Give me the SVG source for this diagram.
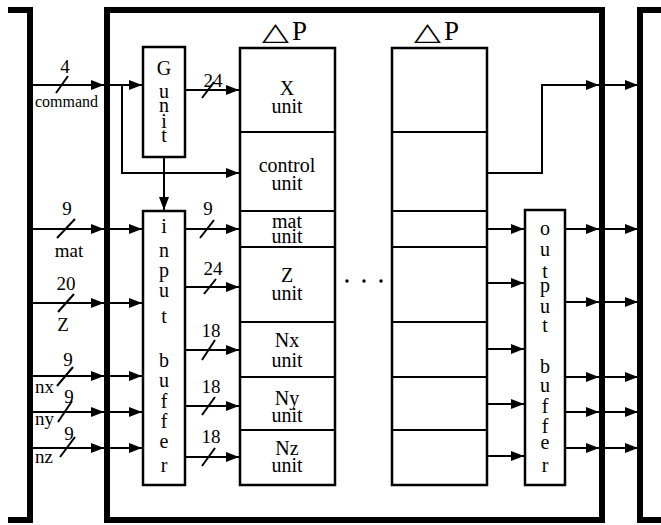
<svg xmlns="http://www.w3.org/2000/svg" width="661" height="525" viewBox="0 0 661 525">
<style>
.t{font-family:"Liberation Serif","Times New Roman",serif;font-size:20px;text-anchor:middle;fill:#000}
.s{font-family:"Liberation Serif","Times New Roman",serif;font-size:19px;text-anchor:middle;fill:#000}
.l{font-family:"Liberation Serif","Times New Roman",serif;font-size:19px;fill:#000}
.cmd{font-family:"Liberation Serif","Times New Roman",serif;font-size:16px;fill:#000}
.tri{font-family:"DejaVu Sans",sans-serif;font-size:25px;fill:#000}
.p{font-family:"Liberation Serif","Times New Roman",serif;font-size:27px;fill:#000}
.box{fill:#fff;stroke:#000;stroke-width:2.5}
.thick{fill:none;stroke:#000;stroke-width:6}
.cell{stroke:#000;stroke-width:2;fill:none}
.c{fill:none;stroke:#000;stroke-width:2}
.a{marker-end:url(#ah)}
.sl{stroke:#000;stroke-width:2}
</style>
<defs>
<marker id="ah" markerWidth="13" markerHeight="10" refX="13" refY="5" orient="auto" markerUnits="userSpaceOnUse"><path d="M0,0 L13,5 L0,10 z" fill="#000"/></marker>
</defs>
<rect width="661" height="525" fill="#fff"/>

<g id="left-bracket"><path class="thick" d="M8,10 H30 V520 H8"/></g>
<g id="right-bracket"><path class="thick" d="M661,10 H640 V520 H661"/></g>
<g id="main-box"><rect class="thick" x="107" y="10" width="495" height="510"/></g>

<g id="connectors">
<path class="c a" d="M33,85 H104"/>
<path class="c a" d="M110,85 H142"/>
<path class="c a" d="M122,85 V173 H239"/>
<path class="c a" d="M185,90 H239"/>
<path class="c a" d="M164,157 V210"/>
<path class="c a" d="M33,229 H104"/><path class="c a" d="M110,229 H142"/>
<path class="c a" d="M33,303 H104"/><path class="c a" d="M110,303 H142"/>
<path class="c a" d="M33,376 H104"/><path class="c a" d="M110,376 H142"/>
<path class="c a" d="M33,412 H104"/><path class="c a" d="M110,412 H142"/>
<path class="c a" d="M33,448 H104"/><path class="c a" d="M110,448 H142"/>
<path class="c a" d="M185,229 H239"/>
<path class="c a" d="M185,287 H239"/>
<path class="c a" d="M185,350 H239"/>
<path class="c a" d="M185,406 H239"/>
<path class="c a" d="M185,457 H239"/>
<path class="c a" d="M488,229 H524"/>
<path class="c a" d="M488,283 H524"/>
<path class="c a" d="M488,349 H524"/>
<path class="c a" d="M488,404 H524"/>
<path class="c a" d="M488,456 H524"/>
<path class="c a" d="M565,229 H599"/><path class="c a" d="M605,229 H638"/>
<path class="c a" d="M565,302 H599"/><path class="c a" d="M605,302 H638"/>
<path class="c a" d="M565,377 H599"/><path class="c a" d="M605,377 H638"/>
<path class="c a" d="M565,412 H599"/><path class="c a" d="M605,412 H638"/>
<path class="c a" d="M565,448 H599"/><path class="c a" d="M605,448 H638"/>
<path class="c a" d="M488,173 H542 V85 H599"/><path class="c a" d="M605,85 H638"/>
<line class="sl" x1="56" y1="93" x2="68" y2="76"/>
<line class="sl" x1="202" y1="98" x2="214" y2="82"/>
<line class="sl" x1="57" y1="238" x2="75" y2="219"/>
<line class="sl" x1="58" y1="312" x2="74" y2="294"/>
<line class="sl" x1="57" y1="386" x2="73" y2="367"/>
<line class="sl" x1="58" y1="422" x2="72" y2="401"/>
<line class="sl" x1="60" y1="457" x2="75" y2="437"/>
<line class="sl" x1="200" y1="238" x2="214" y2="220"/>
<line class="sl" x1="204" y1="294" x2="216" y2="279"/>
<line class="sl" x1="202" y1="360" x2="215" y2="340"/>
<line class="sl" x1="202" y1="415" x2="215" y2="397"/>
<line class="sl" x1="202" y1="466" x2="215" y2="448"/>
<text class="s" x="65" y="73">4</text>
<text class="cmd" x="35" y="107">command</text>
<text class="s" x="213" y="87">24</text>
<text class="s" x="67" y="215">9</text>
<text class="s" x="69" y="257">mat</text>
<text class="s" x="66" y="290">20</text>
<text class="s" x="63" y="331">Z</text>
<text class="s" x="68" y="366">9</text>
<text class="l" x="35" y="393">nx</text>
<text class="s" x="69" y="403">9</text>
<text class="l" x="35" y="425">ny</text>
<text class="s" x="69" y="440">9</text>
<text class="l" x="35" y="463">nz</text>
<text class="s" x="208" y="215">9</text>
<text class="s" x="213" y="275">24</text>
<text class="s" x="211" y="337">18</text>
<text class="s" x="211" y="393">18</text>
<text class="s" x="211" y="443">18</text>
</g>

<g id="g-unit">
<rect class="box" x="143" y="47" width="42" height="110"/>
<text class="t" x="164" y="75">G</text>
<text class="t" x="164" y="98">u</text>
<text class="t" x="164" y="112">n</text>
<text class="t" x="164" y="128">i</text>
<text class="t" x="164" y="142">t</text>
</g>

<g id="input-buffer">
<rect class="box" x="143" y="211" width="42" height="274"/>
<text class="t" x="164" y="233">i</text>
<text class="t" x="164" y="257">n</text>
<text class="t" x="164" y="277">p</text>
<text class="t" x="164" y="297">u</text>
<text class="t" x="164" y="323">t</text>
<text class="t" x="164" y="367">b</text>
<text class="t" x="164" y="387">u</text>
<text class="t" x="164" y="408">f</text>
<text class="t" x="164" y="428">f</text>
<text class="t" x="164" y="448">e</text>
<text class="t" x="164" y="472">r</text>
</g>

<g id="processor-1">
<text class="tri" transform="translate(262,40) scale(1.4,1)">△</text>
<text class="p" x="292" y="40">P</text>
<rect class="box" x="240" y="48" width="95" height="437"/>
<path class="cell" d="M240,132 H335 M240,211 H335 M240,247 H335 M240,322 H335 M240,377 H335 M240,430 H335"/>
<text class="t" x="287" y="95">X</text><text class="t" x="287" y="113">unit</text>
<text class="t" x="287" y="172">control</text><text class="t" x="287" y="190">unit</text>
<text class="t" x="287" y="228">mat</text><text class="t" x="287" y="243">unit</text>
<text class="t" x="287" y="282">Z</text><text class="t" x="287" y="300">unit</text>
<text class="t" x="287" y="347">Nx</text><text class="t" x="287" y="367">unit</text>
<text class="t" x="287" y="405">Ny</text><text class="t" x="287" y="422">unit</text>
<text class="t" x="287" y="455">Nz</text><text class="t" x="287" y="472">unit</text>
</g>

<g id="ellipsis">
<circle cx="347" cy="281" r="1.7"/><circle cx="364" cy="281" r="1.7"/><circle cx="381" cy="281" r="1.7"/>
</g>

<g id="processor-n">
<text class="tri" transform="translate(414,40) scale(1.4,1)">△</text>
<text class="p" x="444" y="40">P</text>
<rect class="box" x="392" y="48" width="95" height="437"/>
<path class="cell" d="M392,132 H487 M392,211 H487 M392,247 H487 M392,322 H487 M392,377 H487 M392,430 H487"/>
</g>

<g id="output-buffer">
<rect class="box" x="525" y="210" width="40" height="275"/>
<text class="t" x="545" y="235">o</text>
<text class="t" x="545" y="256">u</text>
<text class="t" x="545" y="278">t</text>
<text class="t" x="545" y="292">p</text>
<text class="t" x="545" y="313">u</text>
<text class="t" x="545" y="332">t</text>
<text class="t" x="545" y="373">b</text>
<text class="t" x="545" y="392">u</text>
<text class="t" x="545" y="413">f</text>
<text class="t" x="545" y="433">f</text>
<text class="t" x="545" y="449">e</text>
<text class="t" x="545" y="472">r</text>
</g>
</svg>
